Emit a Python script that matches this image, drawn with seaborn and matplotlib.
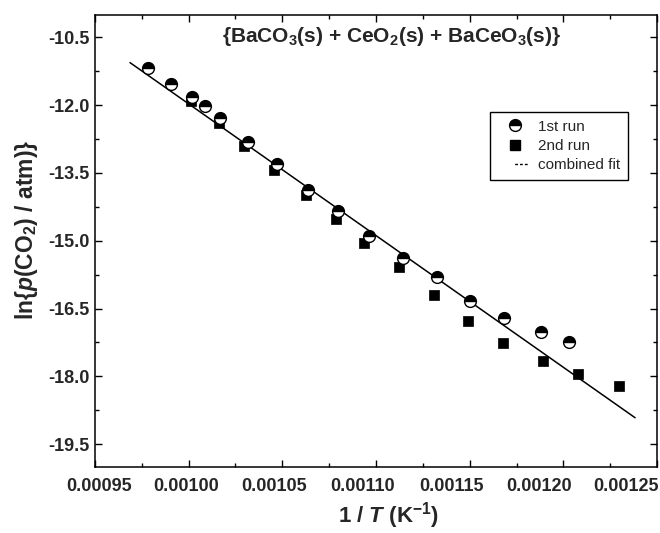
import matplotlib
matplotlib.use("Agg")
import matplotlib.pyplot as plt
from matplotlib.lines import Line2D
from matplotlib.ticker import FixedLocator
from matplotlib.transforms import ScaledTranslation
import seaborn as sns
import pandas as pd

# ---------------- data ----------------
run1_x = [0.0009785, 0.0009906, 0.0010016, 0.0010087, 0.0010167, 0.0010318,
          0.0010470, 0.0010635, 0.0010797, 0.0010963, 0.0011146, 0.0011324,
          0.0011504, 0.0011683, 0.0011879, 0.0012032]
run1_y = [-11.18, -11.54, -11.81, -12.03, -12.28, -12.81,
          -13.31, -13.87, -14.35, -14.89, -15.38, -15.80,
          -16.33, -16.71, -17.01, -17.24]

run2_x = [0.0010012, 0.0010162, 0.0010295, 0.0010457, 0.0010626, 0.0010786,
          0.0010938, 0.0011123, 0.0011310, 0.0011493, 0.0011678, 0.0011890,
          0.0012077, 0.0012299]
run2_y = [-11.92, -12.40, -12.90, -13.43, -13.98, -14.51,
          -15.04, -15.58, -16.21, -16.77, -17.26, -17.67,
          -17.96, -18.22]

fit_x = [0.0009687, 0.0012383]
fit_y = [-11.06, -18.917]

xticks = [0.00095, 0.00100, 0.00105, 0.00110, 0.00115, 0.00120, 0.00125]
xtick_labels = ["0.00095", "0.00100", "0.00105", "0.00110", "0.00115", "0.00120", "0.00125"]
xminor = [0.000975, 0.001025, 0.001075, 0.001125, 0.001175, 0.001225]
yticks = [-10.5, -12.0, -13.5, -15.0, -16.5, -18.0, -19.5]
ytick_labels = ["-10.5", "-12.0", "-13.5", "-15.0", "-16.5", "-18.0", "-19.5"]
yminor = [-11.25, -12.75, -14.25, -15.75, -17.25, -18.75]

legend_labels = ["1st run", "2nd run", "combined fit"]
title_text = r"{BaCO$_3$(s) + CeO$_2$(s) + BaCeO$_3$(s)}"
xlabel_text = r"1 / $\mathit{T}$ (K$^{-1}$)"
ylabel_text = r"ln{$\mathit{p}$(CO$_2$) / atm)}"

# ---------------- style ----------------
sns.set_theme(style="ticks")
plt.rcParams["font.family"] = ["Liberation Sans", "DejaVu Sans"]
plt.rcParams["font.weight"] = "bold"
plt.rcParams["mathtext.fontset"] = "custom"
plt.rcParams["mathtext.rm"] = "Liberation Sans:bold"
plt.rcParams["mathtext.bf"] = "Liberation Sans:bold"
plt.rcParams["mathtext.it"] = "Liberation Sans:bold:italic"
plt.rcParams["mathtext.default"] = "rm"
plt.rcParams["axes.unicode_minus"] = False

fig = plt.figure(figsize=(6.6, 5.33), dpi=100)
ax = fig.add_axes([0.1439, 0.1244, 0.8516, 0.848])

df_fit = pd.DataFrame({"x": fit_x, "y": fit_y})
df1 = pd.DataFrame({"x": run1_x, "y": run1_y})
df2 = pd.DataFrame({"x": run2_x, "y": run2_y})

sns.lineplot(data=df_fit, x="x", y="y", ax=ax, color="black", lw=1.1,
             legend=False, zorder=2)
sns.scatterplot(data=df2, x="x", y="y", ax=ax, marker="s", s=60,
                color="black", edgecolor="black", linewidth=0.5,
                legend=False, zorder=3)
sns.lineplot(data=df1, x="x", y="y", ax=ax, marker="o", linestyle="",
             markersize=8.5, fillstyle="top", markerfacecolor="black",
             markerfacecoloralt="white", markeredgecolor="black",
             markeredgewidth=1.0, color="black", legend=False, zorder=4)

ax.set_xlim(0.00095, 0.00125)
ax.set_ylim(-20.0, -10.0)

ax.xaxis.set_major_locator(FixedLocator(xticks))
ax.xaxis.set_minor_locator(FixedLocator(xminor))
ax.yaxis.set_major_locator(FixedLocator(yticks))
ax.yaxis.set_minor_locator(FixedLocator(yminor))
ax.set_xticklabels(xtick_labels)
ax.set_yticklabels(ytick_labels)

ax.tick_params(which="both", direction="in", top=True, right=True,
               color="black", width=1.0)
ax.tick_params(which="major", length=5)
ax.tick_params(which="minor", length=3)
ax.tick_params(axis="x", which="major", labelsize=13, pad=8)
ax.tick_params(axis="y", which="major", labelsize=13, pad=4)
for lab in ax.get_xticklabels() + ax.get_yticklabels():
    lab.set_fontweight("bold")
for sp in ax.spines.values():
    sp.set_linewidth(1.1)
    sp.set_color("black")

# horizontal offsets of x tick labels as in the reference (pixels)
x_label_shift = [4, -3, -8, -13, -18, -24, -31]
for lab, dx in zip(ax.get_xticklabels(), x_label_shift):
    lab.set_transform(lab.get_transform() + ScaledTranslation(dx / 100, 0, fig.dpi_scale_trans))

ax.set_xlabel("")
ax.set_ylabel("")
fig.text(388 / 660, 1 - 516 / 533, xlabel_text, ha="center", va="center",
         fontsize=16, fontweight="bold")
fig.text(27 / 660, 1 - 230 / 533, ylabel_text, ha="center", va="center",
         rotation=90, fontsize=16.5, fontweight="bold")
fig.text(392 / 660, 1 - 37 / 533, title_text, ha="center", va="center",
         fontsize=15, fontweight="bold")

handles = [
    Line2D([], [], marker="o", linestyle="", markersize=8.5, fillstyle="top",
           markerfacecolor="black", markerfacecoloralt="white",
           markeredgecolor="black", markeredgewidth=1.0),
    Line2D([], [], marker="s", linestyle="", markersize=7.5, color="black"),
    Line2D([], [], color="black", lw=1.0,
           linestyle=(12, (2, 1.5, 2, 1.5, 2, 15))),
]
leg = ax.legend(handles, legend_labels, loc="upper left",
                bbox_to_anchor=(0.703, 0.785), borderaxespad=0,
                frameon=True, fancybox=False,
                edgecolor="black", framealpha=1, handlelength=2.3,
                handletextpad=0.35, labelspacing=0.35, borderpad=0.5,
                prop={"family": "Liberation Sans", "weight": "normal", "size": 11})
leg.get_frame().set_linewidth(1.0)

fig.savefig("out.png", dpi=100)
